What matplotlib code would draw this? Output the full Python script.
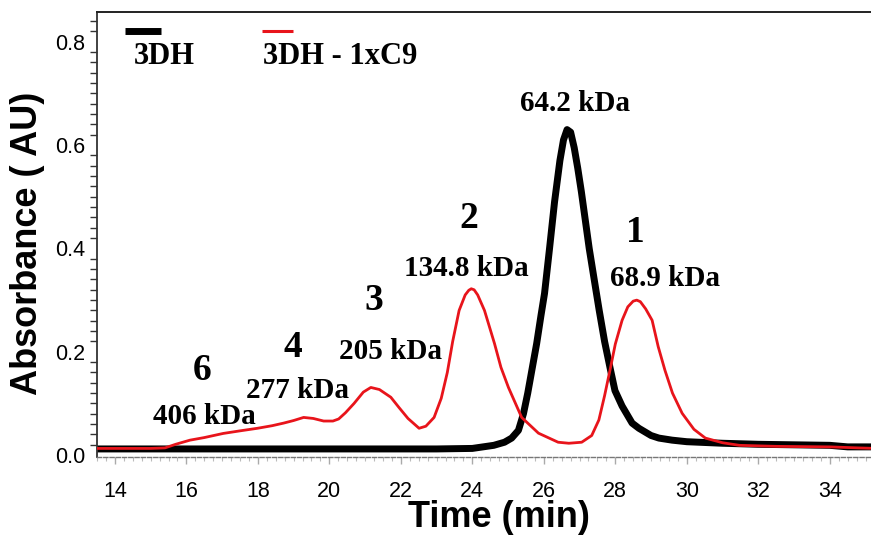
import matplotlib
matplotlib.use("Agg")
import matplotlib.pyplot as plt
from matplotlib.ticker import MultipleLocator
from matplotlib.lines import Line2D

# ---- data ----
time_3dh = [13.5, 15.0, 17.0, 19.0, 21.0, 23.0, 24.0, 24.3, 24.6, 24.9, 25.1, 25.29,
            25.43, 25.55, 25.68, 25.8, 25.92, 26.02, 26.16, 26.3, 26.45, 26.55, 26.65,
            26.75, 26.85, 26.95, 27.05, 27.15, 27.27, 27.4, 27.55, 27.7, 27.85, 27.99,
            28.19, 28.47, 28.66, 29.0, 29.22, 29.59, 30.0, 31.0, 32.0, 33.0, 34.0,
            34.5, 35.3]
abs_3dh = [0.012, 0.012, 0.012, 0.012, 0.012, 0.012, 0.013, 0.016, 0.019, 0.025, 0.033, 0.048,
           0.08, 0.12, 0.17, 0.216, 0.27, 0.313, 0.40, 0.49, 0.57, 0.61, 0.63,
           0.625, 0.595, 0.555, 0.51, 0.46, 0.40, 0.344, 0.28, 0.22, 0.17, 0.125,
           0.095, 0.062, 0.052, 0.038, 0.033, 0.029, 0.026, 0.023, 0.021, 0.020, 0.019,
           0.016, 0.016]

time_c9 = [13.5, 15.0, 15.4, 15.7, 16.1, 16.5, 17.03, 17.5, 17.99, 18.4, 18.72, 19.0,
           19.28, 19.55, 19.84, 20.1, 20.26, 20.45, 20.69, 20.95, 21.16, 21.4, 21.72,
           21.95, 22.2, 22.51, 22.7, 22.93, 23.13, 23.3, 23.45, 23.63, 23.8, 23.9,
           23.97, 24.05, 24.15, 24.34, 24.62, 24.8, 25.01, 25.38, 25.85, 26.4, 26.7,
           27.06, 27.34, 27.54, 27.7, 27.85, 28.0, 28.19, 28.35, 28.5, 28.6, 28.7,
           28.85, 29.03, 29.2, 29.39, 29.6, 29.87, 30.2, 30.52, 31.0, 31.47, 32.5,
           34.0, 34.8, 35.3]
abs_c9 = [0.013, 0.013, 0.014, 0.021, 0.029, 0.034, 0.042, 0.047, 0.052, 0.057, 0.062, 0.067,
          0.073, 0.071, 0.066, 0.066, 0.070, 0.082, 0.10, 0.122, 0.131, 0.127, 0.112,
          0.092, 0.071, 0.052, 0.056, 0.073, 0.11, 0.16, 0.22, 0.28, 0.31, 0.319,
          0.322, 0.32, 0.31, 0.28, 0.216, 0.17, 0.131, 0.073, 0.0425, 0.025, 0.023,
          0.025, 0.038, 0.068, 0.115, 0.164, 0.215, 0.261, 0.287, 0.298, 0.30, 0.297,
          0.283, 0.261, 0.21, 0.164, 0.12, 0.081, 0.05, 0.033, 0.024, 0.019, 0.017,
          0.016, 0.014, 0.013]

# annotations: (text, x, y)
peak_numbers = [("1", 28.55, 0.431), ("2", 23.89, 0.458), ("3", 21.25, 0.30),
                ("4", 18.99, 0.209), ("6", 16.44, 0.164)]
mass_labels = [("64.2 kDa", 26.87, 0.68), ("134.8 kDa", 23.84, 0.361),
               ("68.9 kDa", 29.4, 0.342), ("205 kDa", 21.7, 0.201),
               ("277 kDa", 19.12, 0.126), ("406 kDa", 16.5, 0.075)]

x_ticks = [14, 16, 18, 20, 22, 24, 26, 28, 30, 32, 34]
y_ticks = [0.0, 0.2, 0.4, 0.6, 0.8]

# ---- figure ----
fig = plt.figure(figsize=(8.71, 5.36), dpi=100)
ax = fig.add_axes([0.111, 0.147, 0.895, 0.831])

ax.plot(time_3dh, abs_3dh, color="black", lw=5.0, solid_capstyle="butt",
        solid_joinstyle="round", zorder=2)
ax.plot(time_c9, abs_c9, color="#e8141b", lw=2.0, solid_joinstyle="round", zorder=3)

ax.set_xlim(13.49, 35.3)
ax.set_ylim(-0.004, 0.858)

sans = "Liberation Sans"
serif = "Liberation Serif"

ax.set_xticks(x_ticks)
ax.set_yticks(y_ticks)
ax.set_xticklabels([str(t) for t in x_ticks], fontfamily=sans, fontsize=15.5)
ax.set_yticklabels([f"{t:.1f}" for t in y_ticks], fontfamily=sans, fontsize=15.5)
ax.xaxis.set_minor_locator(MultipleLocator(0.25))
ax.yaxis.set_minor_locator(MultipleLocator(0.02))
ax.tick_params(axis="y", which="major", length=5, width=1.5, color="white",
               direction="inout", pad=6)
ax.tick_params(axis="y", which="minor", length=5, width=1.0, color="#333333")
ax.tick_params(axis="x", which="major", length=5, width=1.0, color="#aaaaaa", pad=12)
ax.tick_params(axis="x", which="minor", length=3, width=0.8, color="#bbbbbb")

ax.spines["left"].set_color("#333333")
ax.spines["left"].set_linewidth(1.3)
ax.spines["top"].set_color("#222222")
ax.spines["top"].set_linewidth(1.4)
ax.spines["bottom"].set_color("#777777")
ax.spines["bottom"].set_linewidth(1.0)
ax.spines["bottom"].set_linestyle((0, (3, 1.5)))
ax.spines["right"].set_visible(False)

# small gaps in the top frame line at the major x positions
top = ax.secondary_xaxis("top")
top.set_xticks(x_ticks)
top.set_xticklabels([])
top.tick_params(axis="x", which="both", length=4, width=2.0, color="white",
                direction="inout")
top.spines["top"].set_visible(False)
top.minorticks_off()

ax.set_xlabel("Time (min)", fontfamily=sans, fontweight="bold", fontsize=26)
ax.xaxis.set_label_coords(0.5165, -0.096, transform=ax.transAxes)
ax.set_ylabel("Absorbance ( AU)", fontfamily=sans, fontweight="bold", fontsize=26)
ax.yaxis.set_label_coords(-0.066, 0.48, transform=ax.transAxes)

for t, x, y in peak_numbers:
    ax.text(x, y, t, fontfamily=serif, fontweight="bold", fontsize=27,
            ha="center", va="center", zorder=4)
for t, x, y in mass_labels:
    ax.text(x, y, t, fontfamily=serif, fontweight="bold", fontsize=21,
            ha="center", va="center", zorder=4)

# legend (custom layout: short line above each label)
ax.add_line(Line2D([0.036, 0.083], [0.957, 0.957], transform=ax.transAxes,
                   color="black", lw=5, solid_capstyle="butt"))
ax.text(0.048, 0.899, "3DH", transform=ax.transAxes, fontfamily=serif,
        fontweight="bold", fontsize=22, ha="left", va="center")
ax.add_line(Line2D([0.212, 0.252], [0.957, 0.957], transform=ax.transAxes,
                   color="#e8141b", lw=2.2, solid_capstyle="butt"))
ax.text(0.213, 0.899, "3DH - 1xC9", transform=ax.transAxes, fontfamily=serif,
        fontweight="bold", fontsize=22, ha="left", va="center")

fig.savefig("out.png", dpi=100)
